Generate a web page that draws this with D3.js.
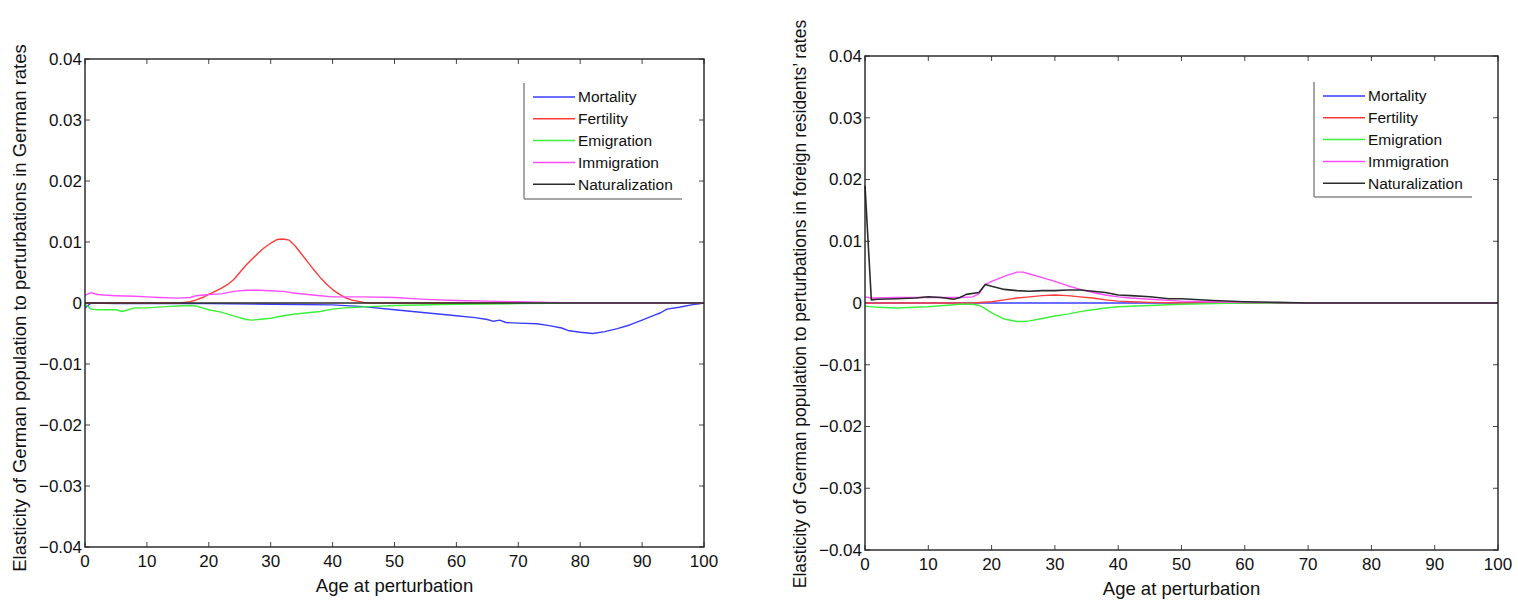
<!DOCTYPE html>
<html>
<head>
<meta charset="utf-8">
<script src="https://cdn.jsdelivr.net/npm/d3@7"></script>
<style>
  body { margin: 0; background: #fff; }
  svg { display: block; }
  text { font-family: "Liberation Sans", Arial, Helvetica, sans-serif; fill: #111; }
</style>
</head>
<body>
<svg id="chart" width="1518" height="604"></svg>
<script>
// ---------- data ----------
const seriesNames = ["Mortality", "Fertility", "Emigration", "Immigration", "Naturalization"];
const seriesColors = ["#3a3cff", "#ff3b3b", "#3cf03c", "#ff4cff", "#2b2b2b"];
const xTicks = [0, 10, 20, 30, 40, 50, 60, 70, 80, 90, 100];
const yTicks = [-0.04, -0.03, -0.02, -0.01, 0, 0.01, 0.02, 0.03, 0.04];
const yTickLabels = ["\u22120.04", "\u22120.03", "\u22120.02", "\u22120.01", "0", "0.01", "0.02", "0.03", "0.04"];

// Left panel: perturbations in German rates  [age, elasticity]
const leftMortality = [[0,-0.0008],[1,0],[5,-0.0001],[10,-0.0001],[20,-0.0001],[30,-0.0002],[40,-0.0003],[45,-0.0006],
  [50,-0.0011],[55,-0.0016],[60,-0.0021],[63,-0.0024],[65,-0.0027],[66,-0.003],[67,-0.0028],[68,-0.0032],[70,-0.0033],
  [73,-0.0034],[75,-0.0037],[77,-0.0041],[78,-0.0045],[80,-0.0048],[82,-0.005],[84,-0.0047],[86,-0.0042],[88,-0.0036],
  [90,-0.0028],[92,-0.002],[93,-0.0016],[94,-0.001],[96,-0.0007],[98,-0.0003],[100,0]];
const leftFertility = [[0,0],[15,0],[16,0.0001],[17,0.0002],[18,0.0005],[19,0.0009],[20,0.0014],[21,0.0019],[22,0.0024],
  [23,0.003],[24,0.0038],[25,0.005],[26,0.0062],[27,0.0072],[28,0.0082],[29,0.0091],[30,0.0098],[31,0.0104],[32,0.0105],
  [33,0.0103],[34,0.0093],[35,0.008],[36,0.0067],[37,0.0054],[38,0.0042],[39,0.0031],[40,0.0022],[41,0.0015],[42,0.0009],
  [43,0.0005],[44,0.0003],[45,0.0001],[46,0],[100,0]];
const leftEmigration = [[0,-0.0002],[1,-0.001],[2,-0.0011],[5,-0.0011],[6,-0.0014],[7,-0.0011],[8,-0.0008],[10,-0.0008],
  [13,-0.0006],[15,-0.0005],[17,-0.0004],[18,-0.0005],[20,-0.0011],[22,-0.0015],[24,-0.0021],[26,-0.0027],[27,-0.0028],
  [28,-0.0027],[30,-0.0025],[32,-0.0021],[34,-0.0018],[36,-0.0016],[38,-0.0014],[40,-0.001],[42,-0.0008],[44,-0.0007],
  [46,-0.0006],[50,-0.0004],[60,-0.0002],[70,-0.0001],[80,0],[100,0]];
const leftImmigration = [[0,0.0013],[1,0.0017],[2,0.0014],[3,0.0013],[5,0.0012],[8,0.0011],[10,0.001],[12,0.0009],
  [15,0.0008],[17,0.0009],[18,0.0012],[20,0.0014],[22,0.0015],[24,0.0019],[26,0.0021],[28,0.0021],[30,0.002],[32,0.0019],
  [34,0.0016],[36,0.0014],[38,0.0012],[40,0.001],[45,0.001],[50,0.0009],[55,0.0006],[60,0.0004],[65,0.0003],[70,0.0002],
  [75,0.0001],[80,0],[100,0]];
const leftNaturalization = [[0,0],[100,0]];

// Right panel: perturbations in foreign residents' rates  [age, elasticity]
const rightMortality = [[0,0],[100,0]];
const rightFertility = [[0,0],[17,0],[20,0.0002],[22,0.0005],[24,0.0008],[26,0.001],[28,0.0012],[30,0.0013],[32,0.0012],
  [34,0.001],[36,0.0008],[38,0.0005],[40,0.0003],[42,0.0002],[45,0.0001],[50,0],[100,0]];
const rightEmigration = [[0,-0.0005],[2,-0.0007],[5,-0.0008],[10,-0.0006],[15,-0.0002],[17,-0.0002],[18,-0.0004],
  [19,-0.0009],[20,-0.0016],[22,-0.0026],[24,-0.003],[25,-0.003],[26,-0.0029],[28,-0.0025],[30,-0.0021],[32,-0.0018],
  [34,-0.0014],[36,-0.0011],[38,-0.0008],[40,-0.0006],[45,-0.0004],[50,-0.0002],[55,-0.0001],[60,0],[100,0]];
const rightImmigration = [[0,0.001],[1,0.0008],[5,0.0009],[10,0.0009],[15,0.0009],[17,0.001],[18,0.0015],[19,0.003],
  [20,0.0035],[22,0.0043],[24,0.005],[25,0.005],[26,0.0047],[28,0.0041],[30,0.0035],[32,0.0028],[34,0.0022],[36,0.0017],
  [38,0.0013],[40,0.001],[42,0.0008],[45,0.0006],[50,0.0003],[55,0.0002],[60,0.0001],[70,0],[100,0]];
const rightNaturalization = [[0,0.019],[1,0.0005],[2,0.0006],[5,0.0007],[8,0.0008],[10,0.001],[12,0.0009],[14,0.0006],
  [15,0.0009],[16,0.0014],[18,0.0017],[19,0.003],[20,0.0027],[22,0.0022],[24,0.002],[26,0.0019],[28,0.002],[30,0.002],
  [32,0.0021],[34,0.0021],[36,0.0019],[38,0.0017],[40,0.0013],[42,0.0012],[45,0.001],[48,0.0007],[50,0.0007],
  [55,0.0004],[60,0.0002],[65,0.0001],[70,0],[100,0]];

const leftTitle = "Elasticity of German population to perturbations in German rates";
const rightTitle = "Elasticity of German population to perturbations in foreign residents\u2019 rates";
const xTitle = "Age at perturbation";

// ---------- drawing ----------
const svg = d3.select("#chart");

function panel(cfg) {
  const x = d3.scaleLinear().domain([0, 100]).range([cfg.x0, cfg.x1]);
  const y = d3.scaleLinear().domain([-0.04, 0.04]).range([cfg.y1, cfg.y0]);
  const g = svg.append("g");
  const tl = 5;

  // ticks (inward on all four sides)
  const tk = g.append("g").attr("stroke", "#444").attr("stroke-width", 1);
  xTicks.forEach(v => {
    tk.append("line").attr("x1", x(v)).attr("x2", x(v)).attr("y1", cfg.y1).attr("y2", cfg.y1 - tl);
    tk.append("line").attr("x1", x(v)).attr("x2", x(v)).attr("y1", cfg.y0).attr("y2", cfg.y0 + tl);
  });
  yTicks.forEach(v => {
    tk.append("line").attr("x1", cfg.x0).attr("x2", cfg.x0 + tl).attr("y1", y(v)).attr("y2", y(v));
    tk.append("line").attr("x1", cfg.x1).attr("x2", cfg.x1 - tl).attr("y1", y(v)).attr("y2", y(v));
  });

  // lines
  const line = d3.line().x(d => x(d[0])).y(d => y(d[1]));
  cfg.series.forEach((s, i) => {
    g.append("path").datum(s).attr("d", line).attr("fill", "none")
      .attr("stroke", seriesColors[i]).attr("stroke-width", i === 4 ? 1.6 : 1.4)
      .attr("stroke-linejoin", "round");
  });

  // box
  g.append("rect").attr("x", cfg.x0).attr("y", cfg.y0)
    .attr("width", cfg.x1 - cfg.x0).attr("height", cfg.y1 - cfg.y0)
    .attr("fill", "none").attr("stroke", "#222").attr("stroke-width", 1.4);

  // tick labels
  xTicks.forEach(v => {
    g.append("text").attr("x", x(v)).attr("y", cfg.y1 + 20).attr("text-anchor", "middle")
      .attr("font-size", 17).text(v);
  });
  yTicks.forEach((v, i) => {
    g.append("text").attr("x", cfg.x0 - 3).attr("y", y(v)).attr("dy", "0.35em")
      .attr("text-anchor", "end").attr("font-size", 17).text(yTickLabels[i]);
  });

  // axis titles
  g.append("text").attr("x", (cfg.x0 + cfg.x1) / 2).attr("y", cfg.y1 + 45).attr("text-anchor", "middle")
    .attr("font-size", 18.5).text(xTitle);
  g.append("text").attr("transform", `translate(${cfg.titleX},${cfg.titleY}) rotate(-90)`)
    .attr("text-anchor", "middle").attr("font-size", cfg.titleSize).text(cfg.title);

  // legend
  const L = cfg.legend;
  const lg = g.append("g");
  lg.append("line").attr("x1", L.x).attr("x2", L.x).attr("y1", L.y).attr("y2", L.y + L.h)
    .attr("stroke", "#888").attr("stroke-width", 1.5);
  lg.append("line").attr("x1", L.x).attr("x2", L.x + L.w).attr("y1", L.y + L.h).attr("y2", L.y + L.h)
    .attr("stroke", "#888").attr("stroke-width", 1.5);
  seriesNames.forEach((n, i) => {
    const yy = L.y + 14 + i * 21.8;
    lg.append("line").attr("x1", L.x + 9).attr("x2", L.x + 51).attr("y1", yy).attr("y2", yy)
      .attr("stroke", seriesColors[i]).attr("stroke-width", 1.5);
    lg.append("text").attr("x", L.x + 54).attr("y", yy).attr("dy", "0.35em")
      .attr("font-size", 15.5).text(n);
  });
}

panel({
  x0: 85, x1: 704, y0: 59, y1: 547,
  series: [leftMortality, leftFertility, leftEmigration, leftImmigration, leftNaturalization],
  title: leftTitle, titleX: 26, titleY: 308, titleSize: 18.5,
  legend: { x: 524, y: 83, w: 158, h: 116 }
});

panel({
  x0: 865, x1: 1498, y0: 56, y1: 550,
  series: [rightMortality, rightFertility, rightEmigration, rightImmigration, rightNaturalization],
  title: rightTitle, titleX: 806, titleY: 304, titleSize: 17.5,
  legend: { x: 1314, y: 82, w: 158, h: 115 }
});
</script>
</body>
</html>
